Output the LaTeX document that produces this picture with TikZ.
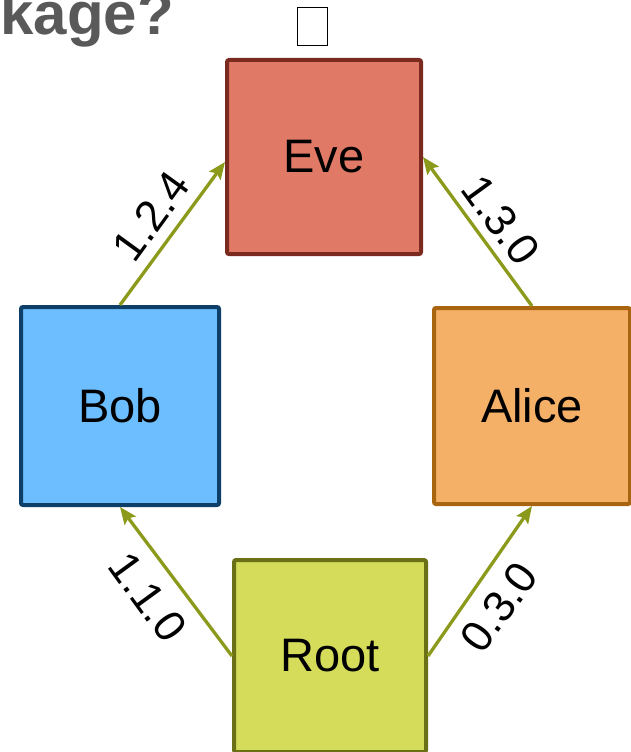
\documentclass[tikz,border=0pt]{standalone}
\usepackage{fontspec}
\setmainfont{Liberation Sans}
\usetikzlibrary{arrows.meta}
\definecolor{evefill}{HTML}{E07966}
\definecolor{evedraw}{HTML}{7A2A1E}
\definecolor{bobfill}{HTML}{6CBEFE}
\definecolor{bobdraw}{HTML}{0E3F68}
\definecolor{alicefill}{HTML}{F5B068}
\definecolor{alicedraw}{HTML}{A8640F}
\definecolor{rootfill}{HTML}{D4DC5A}
\definecolor{rootdraw}{HTML}{6B7016}
\definecolor{arrowc}{HTML}{8C9A1C}
\definecolor{titlegray}{HTML}{595959}
\tikzset{
  person/.style={draw, line width=4pt, rounded corners=2pt, inner sep=0pt,
    font=\fontsize{47}{56}\selectfont, text=black},
  edge/.style={draw=arrowc, line width=3.3pt, -{Stealth[length=17pt,width=14pt,inset=3pt]}},
  lbl/.style={font=\fontsize{44}{52}\selectfont, text=black, inner sep=0pt},
}
\begin{document}
\begin{tikzpicture}[x=1pt,y=-1pt]
\useasboundingbox (0,0) rectangle (631,752);
\clip (0,0) rectangle (631,752);
\node[font=\bfseries\fontsize{60}{64}\selectfont, text=titlegray, anchor=base east, inner sep=0pt] (title) at (174,35) {kage?};
\node[draw=black, line width=0.8pt, fill=white, minimum width=30pt, minimum height=38pt, inner sep=0pt] (tofu) at (312.5,26.5) {};
\node[person, fill=evefill, draw=evedraw, minimum size=194pt] (eve) at (324,157) {Eve};
\node[person, fill=bobfill, draw=bobdraw, minimum size=198pt] (bob) at (120,406) {Bob};
\node[person, fill=alicefill, draw=alicedraw, minimum size=196pt] (alice) at (532,406) {Alice};
\node[person, fill=rootfill, draw=rootdraw, minimum size=192pt] (root) at (330,656) {Root};
\draw[edge] (bob.north) -- ([yshift=-5pt]eve.west);
\draw[edge] (alice.north) -- (eve.east);
\draw[edge] (root.west) -- (bob.south);
\draw[edge] (root.east) -- (alice.south);
\node[lbl, rotate=54] (l124) at (151,216) {1.2.4};
\node[lbl, rotate=-54] (l130) at (501,220) {1.3.0};
\node[lbl, rotate=-54] (l110) at (148,597) {1.1.0};
\node[lbl, rotate=54] (l030) at (499,607) {0.3.0};
\end{tikzpicture}
\end{document}
